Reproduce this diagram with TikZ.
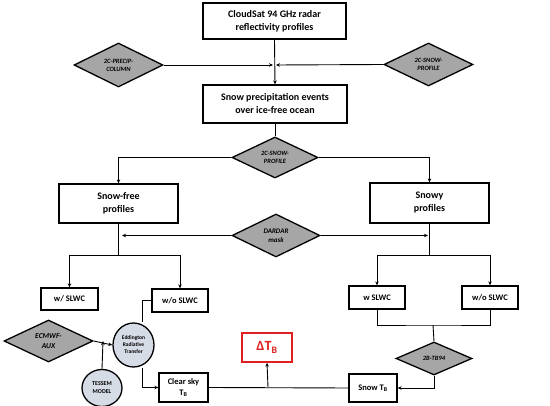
\documentclass[tikz,border=0pt]{standalone}
\usepackage{fontspec}
\setmainfont{Carlito}
\usetikzlibrary{shapes.geometric,arrows.meta}
\definecolor{diagray}{HTML}{A6A6A6}
\definecolor{ellfill}{HTML}{D6DCE5}
\definecolor{dred}{HTML}{E02020}
\tikzset{
  box/.style={draw, line width=1.3pt, fill=white, align=center, font=\bfseries\fontsize{10}{13}\selectfont, inner sep=0pt},
  sbox/.style={box, font=\bfseries\fontsize{8.5}{11}\selectfont},
  dia/.style={diamond, draw, line width=1.3pt, fill=diagray, align=center, inner sep=0pt, font=\bfseries\itshape\fontsize{6.5}{8}\selectfont},
  ell/.style={ellipse, draw, line width=1.3pt, fill=ellfill, align=center, inner sep=0pt, font=\bfseries\fontsize{5.5}{7}\selectfont},
  ln/.style={line width=0.9pt},
  arr/.style={ln, -{Stealth[length=4pt,width=3.5pt]}},
}
\begin{document}
\begin{tikzpicture}[x=1pt,y=-1pt]
\useasboundingbox (0,0) rectangle (550,406);
% boxes
\node[box, minimum width=143pt, minimum height=36pt] (top) at (274.5,21) {CloudSat 94 GHz radar\\reflectivity profiles};
\node[box, minimum width=144pt, minimum height=38pt] (snow) at (275,104) {Snow precipitation events\\over ice-free ocean};
\node[box, minimum width=119pt, minimum height=39pt] (free) at (118.5,203.5) {Snow-free\\profiles};
\node[box, minimum width=119pt, minimum height=40pt] (snowy) at (429.5,203) {Snowy\\profiles};
\node[sbox, minimum width=57pt, minimum height=22pt] (w1) at (69.5,299) {w/ SLWC};
\node[sbox, minimum width=56pt, minimum height=23pt] (wo1) at (180,300.5) {w/o SLWC};
\node[sbox, minimum width=56pt, minimum height=23pt] (w2) at (377,297.5) {w SLWC};
\node[sbox, minimum width=56pt, minimum height=23pt] (wo2) at (490,297.5) {w/o SLWC};
\node[sbox, minimum width=49pt, minimum height=29pt] (clear) at (183.5,387.5) {Clear sky\\T\textsubscript{B}};
\node[sbox, minimum width=48pt, minimum height=28pt] (snowtb) at (373,388) {Snow T\textsubscript{B}};
\node[draw=dred, line width=1.5pt, fill=white, text=dred, font=\bfseries\fontsize{14}{16}\selectfont, minimum width=50pt, minimum height=29pt, inner sep=0pt] (dtb) at (267,347.5) {ΔT\textsubscript{B}};
% diamonds
\node[dia, minimum width=89pt, minimum height=44pt] (d1) at (118.5,65) {2C-PRECIP-\\COLUMN};
\node[dia, minimum width=89pt, minimum height=43pt] (d2) at (428.5,64.5) {2C-SNOW-\\PROFILE};
\node[dia, minimum width=86pt, minimum height=41pt] (d3) at (275,157.5) {2C-SNOW-\\PROFILE};
\node[dia, minimum width=88pt, minimum height=43pt, font=\bfseries\itshape\fontsize{7}{9}\selectfont] (d4) at (276,235.5) {DARDAR\\mask};
\node[dia, minimum width=89pt, minimum height=42pt, font=\bfseries\itshape\fontsize{7.5}{9.5}\selectfont] (d5) at (48.5,341) {ECMWF-\\AUX};
\node[dia, minimum width=76pt, minimum height=33pt] (d6) at (434,358.5) {2B-TB94};
% ellipses
\node[ell, minimum width=41pt, minimum height=44pt] (edd) at (133.5,345) {Eddington\\Radiative\\Transfer};
\node[ell, minimum width=40pt, minimum height=37pt, font=\bfseries\fontsize{6}{8}\selectfont] (tes) at (102,388) {TESSEM\\MODEL};
% helper coordinates
\coordinate (j1) at (274.5,65);
\coordinate (j2) at (268,387);
\coordinate (b1) at (118.5,255);
\coordinate (b2) at (429.5,255);
\coordinate (j3) at (103,341);
\coordinate (m1) at (433,325);
\coordinate (e1) at (142,300.5);
\coordinate (e2) at (142,387.5);
% connectors
\draw[arr] (top.south) -- (snow.north);
\draw[arr] (d1.east) -- ([xshift=-1.5pt]j1);
\draw[arr] (d2.west) -- ([xshift=1.5pt]j1);
\draw[ln] (snow.south) -- (d3.north);
\draw[arr] (d3.west) -| (free.north);
\draw[arr] (d3.east) -| (snowy.north);
\draw[ln] (free.south) -- (b1);
\draw[ln] (snowy.south) -- (b2);
\draw[arr] (d4.west) -- (122,235.5);
\draw[arr] (d4.east) -- (428,235.5);
\draw[arr] (b1) -| (w1.north);
\draw[arr] (b1) -| (wo1.north);
\draw[arr] (b2) -| (w2.north);
\draw[arr] (b2) -| (wo2.north);
\draw[ln] (w2.south) |- (m1) -| (wo2.south);
\draw[ln] (m1) -- (d6.north);
\draw[arr] (d6.south) |- (snowtb.east);
\draw[ln] (clear.east) -- (snowtb.west);
\draw[arr] (j2) -- (dtb.south);
\draw[ln] (wo1.west) -- (e1) -- (edd.north -| e1);
\draw[arr] (edd.south -| e2) -- (e2) -- (clear.west);
\draw[arr] (d5.east) -- (edd.west);
\draw[arr] (tes.north) -- (j3);
\end{tikzpicture}
\end{document}
